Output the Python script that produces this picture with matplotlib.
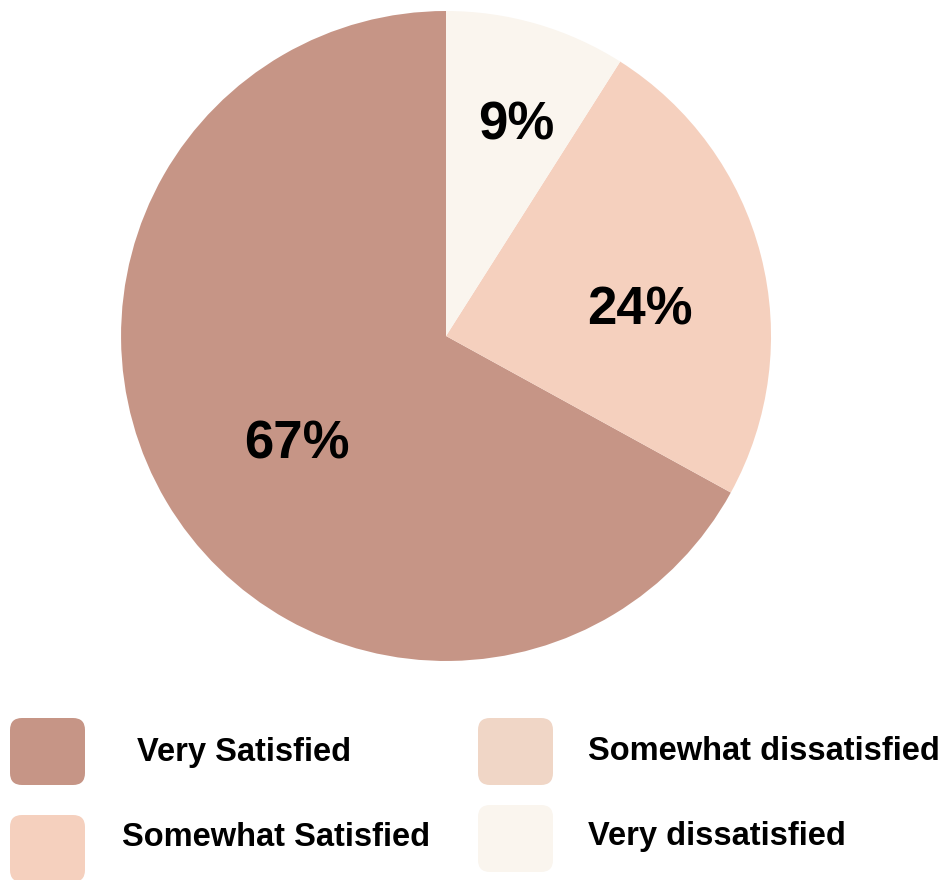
import matplotlib.pyplot as plt
from matplotlib.patches import FancyBboxPatch

labels = ['Very Satisfied', 'Somewhat Satisfied', 'Somewhat dissatisfied', 'Very dissatisfied']
shares = [67, 24, 0, 9]
colors = ['#C69586', '#F5D0BE', '#F0D6C6', '#FAF5EE']
# where each percentage sits inside its wedge (pie units)
label_xy = [(-0.46, -0.333), (0.597, 0.077), (0, 0), (0.215, 0.647)]

plt.rcParams['font.family'] = ['Liberation Sans', 'DejaVu Sans']

fig = plt.figure(figsize=(9.44, 8.8), dpi=100)

# pie sits in the upper part, legend drawn by hand underneath
ax = fig.add_axes([0.1282, 0.2489, 0.6886, 0.7386])
wedges, texts, autotexts = ax.pie(
    shares, colors=colors, startangle=90, counterclock=True,
    autopct=lambda p: f'{p:.0f}%' if p > 0.5 else '',
    pctdistance=0.6, radius=1.0,
    textprops=dict(fontsize=38, fontweight='bold', color='black'))
for t, xy in zip(autotexts, label_xy):
    t.set_position(xy)
ax.set_xlim(-1, 1)
ax.set_ylim(-1, 1)
ax.set_aspect('equal')

# legend in pixel coordinates
lg = fig.add_axes([0, 0, 1, 1], zorder=-1)
lg.set_xlim(0, 944)
lg.set_ylim(880, 0)
lg.axis('off')

boxes = [(10, 718), (10, 815), (478, 718), (478, 805)]
text_pos = [(137, 752), (122, 837), (588, 752), (588, 837)]
for lab, col, (bx, by), (tx, ty) in zip(labels, colors, boxes, text_pos):
    lg.add_patch(FancyBboxPatch((bx + 12, by + 12), 75 - 24, 67 - 24,
                                boxstyle='round,pad=12', fc=col, ec='none'))
    lg.text(tx, ty, lab, fontsize=23.5, fontweight='bold', ha='left', va='center')

fig.savefig('out.png', dpi=100)
